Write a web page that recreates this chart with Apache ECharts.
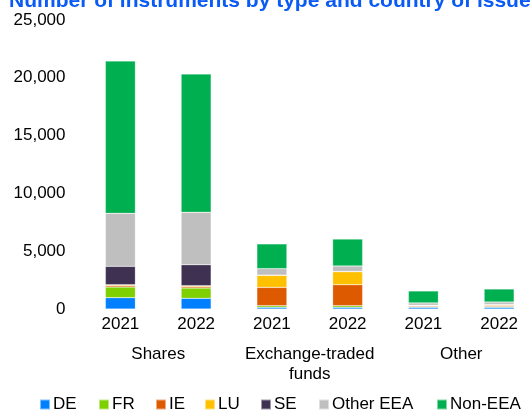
<!DOCTYPE html>
<html>
<head>
<meta charset="utf-8">
<script src="https://cdn.jsdelivr.net/npm/echarts@6/dist/echarts.min.js"></script>
<style>html,body{margin:0;padding:0;background:#fff;overflow:hidden;width:531px;height:413px;}#c{width:545px;height:413px;}</style>
</head>
<body>
<div id="c"></div>
<script>
// ---- data ----
const years = ['2021', '2022', '2021', '2022', '2021', '2022'];
const groups = ['Shares', 'Exchange-traded\nfunds', 'Other'];
const seriesNames = ['DE', 'FR', 'IE', 'LU', 'SE', 'Other EEA', 'Non-EEA'];
const DE       = [980, 925, 145, 145, 145, 145];
const FR       = [920, 890, 145, 145, 50, 70];
const IE       = [120, 110, 1580, 1810, 80, 90];
const LU       = [80, 90, 1040, 1125, 30, 60];
const SE       = [1590, 1815, 20, 20, 20, 20];
const OtherEEA = [4580, 4530, 560, 475, 200, 220];
const NonEEA   = [13180, 11960, 2140, 2330, 1035, 1125];
const yTicks = [0, 5000, 10000, 15000, 20000, 25000];

// ---- styling ----
const colors = ['#0080FF', '#7FD000', '#DD5A00', '#FFC000', '#3F3151', '#BFBFBF', '#00B050'];
const values = [DE, FR, IE, LU, SE, OtherEEA, NonEEA];
const legendLeft = [39, 98, 155, 204, 260, 318, 436];
const font = 'Liberation Sans, Arial, sans-serif';

const chart = echarts.init(document.getElementById('c'), null, {renderer: 'canvas'});
chart.setOption({
  animation: false,
  title: {
    text: 'Number of instruments by type and country of issuer',
    left: 9, top: -9, padding: 0,
    textStyle: {color: '#0A5AF5', fontSize: 21, fontWeight: 'bold', fontFamily: font}
  },
  legend: seriesNames.map((n, i) => ({
    data: [n], left: legendLeft[i], top: 396, padding: 0,
    icon: 'rect', itemWidth: 10, itemHeight: 10, itemGap: 0,
    textStyle: {fontSize: 17, color: '#000', fontFamily: font, padding: [0, 0, 0, -2]}
  })),
  grid: {left: 82.5, width: 454.5, top: 19.9, bottom: 104, containLabel: false},
  xAxis: [{
    type: 'category', data: years, gridIndex: 0,
    axisLine: {show: false}, axisTick: {show: false},
    axisLabel: {interval: 0, fontSize: 17, color: '#000', fontFamily: font, margin: 7}
  }, {
    type: 'category', data: groups, gridIndex: 0, position: 'bottom', offset: 29,
    axisLine: {show: false}, axisTick: {show: false},
    axisLabel: {interval: 0, fontSize: 17, color: '#000', fontFamily: font, margin: 6, lineHeight: 20}
  }],
  yAxis: {
    type: 'value', min: yTicks[0], max: yTicks[yTicks.length - 1],
    interval: yTicks[1] - yTicks[0],
    axisLine: {show: false}, axisTick: {show: false}, splitLine: {show: false},
    axisLabel: {fontSize: 17, color: '#000', fontFamily: font, margin: 17,
      formatter: v => v.toLocaleString('en-US')}
  },
  series: seriesNames.map((n, i) => ({
    name: n, type: 'bar', stack: 'all', xAxisIndex: 0,
    barWidth: 30, data: values[i],
    itemStyle: {color: colors[i], borderColor: 'rgba(255,255,255,0.5)', borderWidth: 0.5}
  }))
});
</script>
</body>
</html>
